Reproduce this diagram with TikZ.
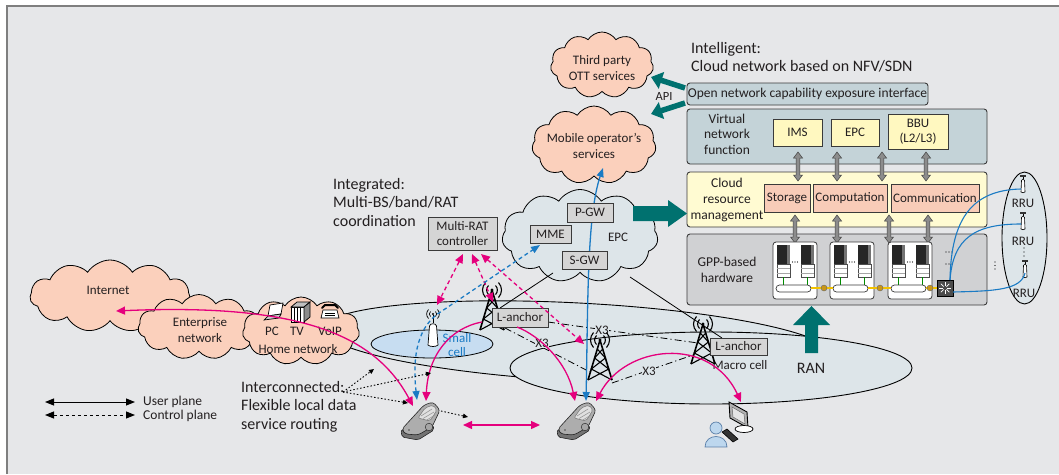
\documentclass[tikz,border=0pt]{standalone}
\usepackage{fontspec}
\setmainfont{Carlito}
\usetikzlibrary{shapes.symbols,arrows.meta,calc}

% colours
\definecolor{paper}{HTML}{E6E7E9}
\definecolor{framec}{HTML}{7F7F7F}
\definecolor{peach}{HTML}{FBD0BC}
\definecolor{corefill}{HTML}{DDE5E9}
\definecolor{cellfill}{HTML}{DDE5E9}
\definecolor{smallfill}{HTML}{C7DDF1}
\definecolor{vnffill}{HTML}{C4D3D8}
\definecolor{crmfill}{HTML}{FFFBD2}
\definecolor{funcfill}{HTML}{FFF8C0}
\definecolor{resfill}{HTML}{F8CCB8}
\definecolor{gppfill}{HTML}{D0D1D3}
\definecolor{tagfill}{HTML}{D5D5D5}
\definecolor{tealc}{HTML}{00716F}
\definecolor{pinkc}{HTML}{E5007D}
\definecolor{bluec}{HTML}{1B7BC4}
\definecolor{txt}{HTML}{231F20}
\definecolor{edgec}{HTML}{3A3A3A}
\definecolor{arrowgray}{HTML}{8C8C8C}
\definecolor{personfill}{HTML}{BDD7EE}
\definecolor{personedge}{HTML}{5A7FA8}
\definecolor{linkyellow}{HTML}{F2C200}
\definecolor{linkdot}{HTML}{C9961A}

\tikzset{
  lbl/.style={font=\fontsize{13}{16}\selectfont, text=txt, inner sep=0pt, align=center},
  legendtxt/.style={font=\fontsize{13.5}{15}\selectfont, text=txt, inner sep=0pt, anchor=west},
  heading/.style={font=\fontsize{16}{18.5}\selectfont, text=txt, inner sep=0pt, align=left, anchor=north west},
  tag/.style={draw=edgec, fill=tagfill, line width=0.8pt, inner sep=1pt, font=\fontsize{13}{15}\selectfont, text=txt, align=center},
  layerbox/.style={draw=edgec, rounded corners=3pt, line width=0.9pt, inner sep=0pt},
  fnbox/.style={draw=edgec, fill=funcfill, line width=0.8pt, inner sep=1pt, font=\fontsize{13}{15}\selectfont, text=txt, align=center},
  resbox/.style={draw=edgec, fill=resfill, line width=0.8pt, inner sep=1pt, font=\fontsize{13}{15}\selectfont, text=txt},
  puff/.style={cloud, cloud puffs=11, cloud puff arc=115, cloud ignores aspect, draw=black, line width=0.8pt, inner sep=0pt},
  cellarea/.style={draw=black, fill=cellfill, line width=0.9pt},
  uplane/.style={draw=pinkc, line width=1.3pt, >={Triangle[length=9pt,width=8pt]}},
  cplane/.style={uplane, dash pattern=on 4pt off 3pt},
  bearer/.style={draw=bluec, line width=1.3pt, >={Triangle[length=9pt,width=7pt]}},
  bearerctrl/.style={bearer, dash pattern=on 4pt off 3pt},
  xlink/.style={draw=black, line width=0.8pt, dash pattern=on 7pt off 3pt on 1.2pt off 3pt},
  hint/.style={draw=black, line width=0.9pt, dash pattern=on 1.5pt off 2pt, >={Triangle[length=5pt,width=4.5pt]}},
  trunk/.style={draw=black, line width=0.8pt},
  fronthaul/.style={draw=bluec, line width=1.1pt},
  x3tag/.style={font=\fontsize{13}{15}\selectfont, text=txt, inner sep=0.5pt, fill=cellfill},
  legendline/.style={draw=black, line width=1pt, >={Triangle[length=9pt,width=7pt]}},
  % lattice mast with radio waves, origin at the wave centre
  mast/.pic={
    \draw[line width=1.6pt, line join=round] (-12,46) -- (0,6) -- (12,46);
    \draw[line width=1.1pt]
      (-2.7,15) -- (5.4,24) -- (-8.7,35) -- (12,46)
      (2.7,15) -- (-5.4,24) -- (8.7,35) -- (-12,46);
    \draw[line width=1.1pt]
      (-3.5,1.5) .. controls (-6,4) and (-6,8) .. (-3.5,10.5)
      (3.5,1.5) .. controls (6,4) and (6,8) .. (3.5,10.5)
      (-6.5,-1.5) .. controls (-10.5,3) and (-10.5,9) .. (-6.5,13.5)
      (6.5,-1.5) .. controls (10.5,3) and (10.5,9) .. (6.5,13.5);
    \fill (0,6) circle (1.6pt);
  },
  % small cell antenna, origin at the wave centre
  smallant/.pic={
    \draw[line width=0.7pt]
      (-2.5,-2.5) .. controls (-4,-1) and (-4,1) .. (-2.5,2.5)
      (2.5,-2.5) .. controls (4,-1) and (4,1) .. (2.5,2.5)
      (-4.5,-4.5) .. controls (-7,-1.5) and (-7,1.5) .. (-4.5,4.5)
      (4.5,-4.5) .. controls (7,-1.5) and (7,1.5) .. (4.5,4.5);
    \fill (0,0) circle (1.2pt);
    \draw[line width=0.7pt] (0,1) -- (0,9);
    \draw[fill=white, line width=0.7pt] (-5,31) -- (-3.5,12) .. controls (-3,9) and (3,9) .. (3.5,12)
      -- (5,31) .. controls (3,33) and (-3,33) .. (-5,31) -- cycle;
  },
  % remote radio unit antenna, origin at the top
  rruant/.pic={
    \fill[black!80] (-3,0) rectangle (3,1.6);
    \draw[line width=0.6pt] (0,1.6) -- (0,4);
    \draw[fill=white, line width=0.6pt] (-2,17) -- (-1.5,5.5) .. controls (-1.3,3.5) and (1.3,3.5) .. (1.5,5.5)
      -- (2,17) .. controls (1,18) and (-1,18) .. (-2,17) -- cycle;
  },
  % server enclosure, origin at the top left corner
  rack/.pic={
    \draw[edgec, fill=white, rounded corners=3pt, line width=0.8pt] (0,0) rectangle (44,57);
    \foreach \t in {4,28}{
      \fill[black!85] (\t,3) rectangle (\t+13,22);
      \fill[black!55] (\t+9.5,3) rectangle (\t+13,22);
      \draw[black!70, fill=white, line width=0.5pt] (\t,22) rectangle (\t+13,35);
      \draw[black!35, line width=0.5pt] (\t,26.5) -- (\t+13,26.5) (\t,31) -- (\t+13,31);
      \draw[green!55!black, line width=1pt] (\t+6.5,35) -- (\t+6.5,43);
    }
    \foreach \d in {19.5,22,24.5} \fill (\d,20) circle (0.6pt);
    \draw[edgec, fill=white, rounded corners=3.5pt, line width=0.7pt] (3,43) rectangle (38,50);
  },
  % handset, origin at its centre
  handset/.pic={
    \draw[fill=black!55, draw=black!85, rounded corners=2pt, line width=0.6pt]
      (-20,9) -- (-19,16) -- (-3,19) -- (13,9) -- (12,4) -- cycle;
    \draw[fill=black!32, draw=black!85, rounded corners=3pt, line width=0.6pt]
      (-19,8) -- (3,-16) -- (12,-19) -- (19,-11) -- (11,6) -- (-3,14) -- (-16,13) -- cycle;
    \draw[fill=black!12, draw=black!55, rounded corners=2pt, line width=0.5pt]
      (-3,-3) -- (4,-13) -- (12,-16) -- (16,-11) -- (9,0) -- cycle;
    \draw[black!40, line width=0.6pt] (0,-5) -- (11,-12) (2,-2.5) -- (13,-9) (5,-0.5) -- (14,-6);
    \draw[fill=black!35, draw=black!80, line width=0.5pt] (8,6) circle (3.8pt);
    \fill[black!70] (-12,9) circle (0.8pt);
  },
  % user at a desktop computer, origin near the keyboard
  desk/.pic={
    \draw[fill=black!30, draw=black, line width=0.9pt] (-1,-23) -- (17,-13) -- (18,3) -- (0,-7) -- cycle;
    \draw[fill=black!10, draw=black!60, line width=0.5pt] (2,-18) -- (14,-11) -- (15,-1) -- (3,-8) -- cycle;
    \draw[fill=white, draw=black, line width=0.7pt] (14,4) ellipse [x radius=9pt, y radius=3.5pt];
    \draw[fill=black!80, draw=black, line width=0.6pt] (-8,7) -- (-3,4) -- (8,14) -- (3,17) -- cycle;
    \draw[fill=personfill, draw=personedge, line width=0.7pt] (-14,3) circle (6pt);
    \draw[fill=personfill, draw=personedge, line width=0.7pt] (-25,22) .. controls (-25,8) and (-3,8) .. (-3,22) -- cycle;
  },
}

% double headed grey arrow between two layers: x, top y, bottom y
\newcommand\layerlink[3]{%
  \filldraw[fill=arrowgray, draw=black!75, line width=0.5pt]
    (#1,#2) -- (#1+4.5,#2+6) -- (#1+1.8,#2+6) -- (#1+1.8,#3-6) -- (#1+4.5,#3-6) -- (#1,#3)
    -- (#1-4.5,#3-6) -- (#1-1.8,#3-6) -- (#1-1.8,#2+6) -- (#1-4.5,#2+6) -- cycle;}

\begin{document}
\begin{tikzpicture}[x=1pt,y=-1pt]
\useasboundingbox (0,0) rectangle (1059,474);
\fill[white] (0,0) rectangle (1059,474);
\fill[paper] (7,6) rectangle (1059,474);
\draw[framec, line width=1.6pt] (7,474) -- (7,6) -- (1059,6);

% ---------------- radio access areas ----------------
\draw[cellarea, rotate around={-3:(578,342)}] (578,342) ellipse [x radius=255pt, y radius=39pt];
\draw[cellarea] (711,368) ellipse [x radius=201pt, y radius=36pt];
\draw[draw=black, fill=smallfill, line width=0.8pt] (432,344) ellipse [x radius=61pt, y radius=14pt];

% ---------------- clouds ----------------
\node[puff, fill=peach, minimum width=160pt, minimum height=72pt] (inet) at (110,296) {};
\node[puff, fill=peach, minimum width=122pt, minimum height=65pt] (ent) at (199,327) {};
\node[puff, fill=peach, minimum width=117pt, minimum height=68pt] (home) at (301,331) {};
\node[puff, fill=corefill, minimum width=156pt, minimum height=93pt] (epc) at (580,236) {};
\node[puff, fill=peach, minimum width=124pt, minimum height=78pt] (mos) at (594,145) {};
\node[puff, fill=peach, minimum width=103pt, minimum height=66pt] (ott) at (602,65) {};

\node[lbl] (inettxt) at (108,290) {Internet};
\node[lbl] (enttxt) at (200,330) {Enterprise\\network};
\node[lbl] (hometxt) at (298,349) {Home network};
\node[lbl] (pctxt) at (272,331) {PC};
\node[lbl] (tvtxt) at (297,331) {TV};
\node[lbl] (voiptxt) at (330,331) {VoIP};
\node[lbl] (otttxt) at (602,68) {Third party\\OTT services};
\node[lbl] (mostxt) at (594,146) {Mobile operator’s\\services};
\node[lbl] (epctxt) at (618,237) {EPC};

% home devices
\draw[fill=white, line width=0.7pt] (270,305) -- (283,303) -- (281,314) -- (268,316) -- cycle;
\draw[fill=black!20, line width=0.7pt] (264,320) -- (268,316) -- (281,314) -- (279,318) -- cycle;
\draw[fill=white, line width=0.7pt] (291,307) rectangle (304,322);
\draw[line width=0.5pt] (294,307) -- (294,322) (297,307) -- (297,322) (300,307) -- (300,322);
\draw[fill=black!25, line width=0.7pt] (291,307) -- (297,302) -- (310,302) -- (304,307) -- cycle;
\draw[fill=black!45, line width=0.7pt] (304,307) -- (310,302) -- (310,317) -- (304,322) -- cycle;
\draw[fill=white, line width=0.7pt] (321,318) -- (323,310) -- (337,310) -- (339,318) -- cycle;
\draw[line width=0.5pt] (325,313) -- (335,313) (325,315.5) -- (335,315.5);
\draw[line width=2pt, line cap=round] (322,308) -- (325,305) -- (335,305) -- (338,308);

% ---------------- anchor points of the connectors ----------------
\coordinate (inetTip) at (116,311);
\coordinate (ph1A) at (413,406);
\coordinate (ph1B) at (426,401);
\coordinate (ph1C) at (417,400);
\coordinate (ph1R) at (441,411);
\coordinate (dotTip) at (468,417);
\coordinate (ph2A) at (575,401);
\coordinate (ph2B) at (586,401);
\coordinate (ph2C) at (596,401);
\coordinate (pcTip) at (741,402);
\coordinate (laOneFoot) at (482,322);
\coordinate (laOneLbl) at (517,327);
\coordinate (mrcA) at (463,254);
\coordinate (mrcB) at (472,254);
\coordinate (mrcC) at (481,254);
\coordinate (smallTop) at (437,305);
\coordinate (towerOneTop) at (493,302);
\coordinate (macroTop) at (584,344);
\coordinate (mmeTip) at (540,245);
\coordinate (mosTip) at (603,168);
\coordinate (fromHere) at (343,392);
\coordinate (dotA) at (374,369);
\coordinate (dotB) at (431,373);
\coordinate (dotC) at (408,403);
\coordinate (ueL) at (463,425);
\coordinate (ueR) at (540,425);
\coordinate (epcSW) at (553,273);
\coordinate (epcSE) at (630,277);
\coordinate (laOneTop) at (500,308);
\coordinate (laTwoTop) at (722,338);
\coordinate (xA1) at (548,322);
\coordinate (xA2) at (698,343);
\coordinate (xB1) at (505,328);
\coordinate (xB2) at (590,372);
\coordinate (xC1) at (612,383);
\coordinate (xC2) at (693,355);

% backhaul from the EPC
\draw[trunk] (epcSW) -- (laOneTop);
\draw[trunk] (epcSE) -- (laTwoTop);

% X3 interfaces
\draw[xlink] (xA1) -- (xA2);
\draw[xlink] (xB1) -- (xB2);
\draw[xlink] (xC1) -- (xC2);
\node[x3tag] (x3a) at (602,330) {X3};
\node[x3tag] (x3b) at (542,343) {X3};
\node[x3tag] (x3c) at (649,371) {X3};

% user plane bearer through the gateways
\draw[bearer, <->] (ph2B) .. controls (588,300) and (587,215) .. (mosTip);

% core boxes
\node[tag, minimum width=46pt, minimum height=19pt] (pgw) at (590,212.5) {P-GW};
\node[tag, minimum width=41pt, minimum height=18pt] (mme) at (550.5,234) {MME};
\node[tag, minimum width=45pt, minimum height=18pt] (sgw) at (584.5,260) {S-GW};
\node[tag, minimum width=69pt, minimum height=33pt] (mrc) at (462.5,233.5) {Multi-RAT\\controller};

% base stations
\node[lbl] (macrotxt) at (740,365) {Macro cell};
\pic at (492,284) {mast};
\pic at (600,334) {mast};
\pic at (703,318) {mast};
\pic at (433,314) {smallant};
\node[tag, minimum width=56pt, minimum height=19pt] (la1) at (520,317.5) {L-anchor};
\node[tag, minimum width=57pt, minimum height=17pt] (la2) at (738.5,346.5) {L-anchor};
\node[lbl, text=bluec, font=\fontsize{13}{14}\selectfont] (smalltxt) at (457,345) {Small\\cell};

% terminals
\pic at (421,421) {handset};
\pic at (577,421) {handset};
\pic at (730,425) {desk};

% control plane signalling
\draw[cplane, <->] (mrcA) -- (smallTop);
\draw[cplane, <->] (mrcB) -- (towerOneTop);
\draw[cplane, <->] (mrcC) -- (macroTop);
\draw[bearerctrl, <->] (ph1C) .. controls (412,355) and (418,325) .. (442,311) -- (mmeTip);

% user plane flows
\draw[uplane, <->] (inetTip) .. controls (300,303) and (375,335) .. (ph1A);
\draw[uplane, ->] (laOneFoot) .. controls (450,328) and (428,355) .. (ph1B);
\draw[uplane, ->] (laOneLbl) .. controls (540,336) and (567,362) .. (ph2A);
\draw[uplane, <->] (ph2C) .. controls (625,345) and (710,335) .. (pcTip);
\draw[uplane, <->] (ueL) -- (ueR);

% local routing hints
\draw[hint, ->] (fromHere) -- (dotA);
\draw[hint, ->] (fromHere) -- (dotB);
\draw[hint, ->] (fromHere) -- (dotC);
\draw[hint, ->] (ph1R) -- (dotTip);

% ---------------- headings ----------------
\node[heading] (hint1) at (691,42) {Intelligent:\\Cloud network based on NFV/SDN};
\node[heading] (hint2) at (333,178) {Integrated:\\Multi-BS/band/RAT\\coordination};
\node[heading] (hint3) at (241,381) {Interconnected:\\Flexible local data\\service routing};

% legend
\coordinate (lgA1) at (45,402);
\coordinate (lgA2) at (135,402);
\coordinate (lgB1) at (45,415);
\coordinate (lgB2) at (135,415);
\draw[legendline, <->] (lgA1) -- (lgA2);
\draw[legendline, dashed, <->] (lgB1) -- (lgB2);
\node[legendtxt] (lgu) at (143,402) {User plane};
\node[legendtxt] (lgc) at (143,416) {Control plane};

% ---------------- cloud platform ----------------
\node[layerbox, fill=vnffill, minimum width=241pt, minimum height=22pt, font=\fontsize{13.5}{15}\selectfont, text=txt] (oni) at (807.5,94) {Open network capability exposure interface};
\node[layerbox, fill=vnffill, minimum width=300pt, minimum height=55pt] (vnf) at (837,136.5) {};
\node[layerbox, fill=crmfill, minimum width=300pt, minimum height=55pt] (crm) at (837,199.5) {};
\node[layerbox, fill=gppfill, minimum width=300pt, minimum height=71pt] (gpp) at (837,269.5) {};

\node[lbl, font=\fontsize{13.5}{15.5}\selectfont] (vnftxt) at (727,134) {Virtual\\network\\function};
\node[lbl, font=\fontsize{13.5}{16}\selectfont] (crmtxt) at (727,200) {Cloud\\resource\\management};
\node[lbl, font=\fontsize{13.5}{16}\selectfont] (gpptxt) at (727,270) {GPP-based\\hardware};

\node[fnbox, minimum width=49pt, minimum height=27pt] (ims) at (797.5,132.5) {IMS};
\node[fnbox, minimum width=48pt, minimum height=27pt] (vepc) at (855,132.5) {EPC};
\node[fnbox, minimum width=60pt, minimum height=35pt, font=\fontsize{13}{14.5}\selectfont] (bbu) at (918,131.5) {BBU\\(L2/L3)};

\node[resbox, minimum width=46pt, minimum height=28pt] (stor) at (787,198) {Storage};
\node[resbox, minimum width=74pt, minimum height=28pt] (comp) at (850,198) {Computation};
\node[resbox, minimum width=88pt, minimum height=28pt] (comm) at (935,198) {Communication};

\layerlink{798}{152}{181}
\layerlink{837}{152}{181}
\layerlink{882}{152}{181}
\layerlink{926}{152}{181}
\layerlink{795}{215}{243}
\layerlink{837}{215}{243}
\layerlink{889}{215}{243}
\layerlink{928}{215}{243}

% servers and their interconnect
\pic at (773,242) {rack};
\pic at (830,242) {rack};
\pic at (888,242) {rack};
\draw[linkyellow, line width=1.2pt] (811,288) -- (833,288) (868,288) -- (891,288) (926,288) -- (937,288);
\foreach \c in {824,880,930} \draw[fill=linkdot, draw=black!60, line width=0.4pt] (\c,288) circle (3pt);
\node[draw=black, fill=black!70, minimum size=16pt, inner sep=0pt, line width=0.6pt] (sw) at (945,288) {};
\foreach \a in {0,45,...,315} \draw[white, line width=0.7pt] ($(sw.center)+(\a:2pt)$) -- ($(sw.center)+(\a:6pt)$);
\foreach \d in {946,949,952} {\fill (\d,252) circle (0.6pt); \fill (\d,264) circle (0.6pt);}
\foreach \d in {262,265.5,269} \fill (995,\d) circle (0.6pt);

% remote radio units
\draw[draw=black, fill=cellfill, line width=0.9pt] (1024.5,238) ellipse [x radius=22.5pt, y radius=66pt];
\pic at (1023,175) {rruant};
\pic at (1023,212) {rruant};
\pic at (1025,260) {rruant};
\node[lbl] (rru1) at (1023,203) {RRU};
\node[lbl] (rru2) at (1023,241) {RRU};
\node[lbl] (rru3) at (1024,293) {RRU};
\foreach \d in {248,252,256} \fill (1024,\d) circle (0.6pt);
\coordinate (swTop) at (950,280);
\coordinate (swRight) at (953,292);
\coordinate (rruOne) at (1021,189);
\coordinate (rruTwo) at (1021,224);
\coordinate (rruThree) at (1025,273);
\draw[fronthaul] (swTop) .. controls (951,215) and (975,190) .. (rruOne);
\draw[fronthaul] (swTop) .. controls (953,238) and (975,224) .. (rruTwo);
\draw[fronthaul] (swRight) .. controls (995,291) and (1021,290) .. (rruThree);

% ---------------- big arrows ----------------
\fill[tealc] (633,206) -- (668,206) -- (668,200) -- (687,213.5) -- (668,227) -- (668,221) -- (633,221) -- cycle;
\fill[tealc] (805,353) -- (805,325) -- (793,325) -- (811.5,306) -- (830,325) -- (818,325) -- (818,353) -- cycle;
\node[font=\fontsize{16}{18}\selectfont, text=txt, inner sep=0pt] (rantxt) at (811,368) {RAN};
\node[font=\fontsize{12.5}{14}\selectfont, text=txt, inner sep=0pt] (apitxt) at (664,96) {API};
\coordinate (apiA1) at (685,88);
\coordinate (apiA2) at (651,77);
\coordinate (apiB1) at (685,103);
\coordinate (apiB2) at (651,114);
\draw[tealc, line width=5.5pt, -{Triangle[length=11pt,width=17pt]}] (apiA1) -- (apiA2);
\draw[tealc, line width=5.5pt, -{Triangle[length=11pt,width=17pt]}] (apiB1) -- (apiB2);
\end{tikzpicture}
\end{document}
